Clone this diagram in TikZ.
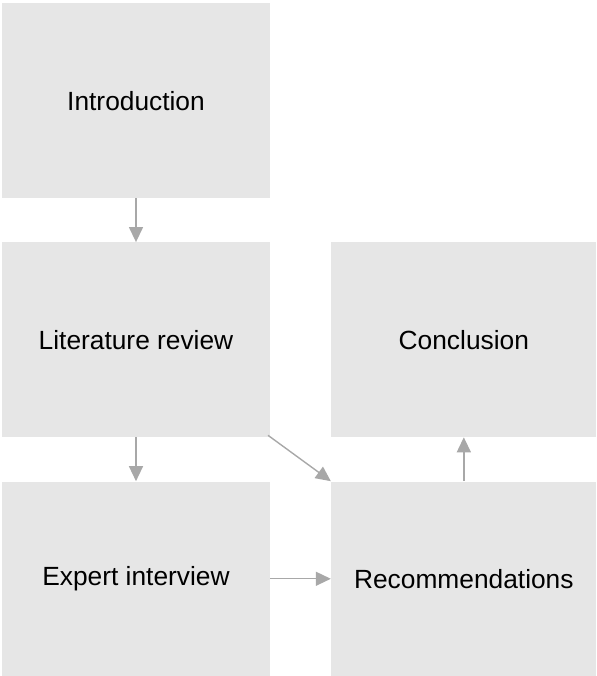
\documentclass[tikz,border=0pt]{standalone}
\usepackage{fontspec}
\setmainfont{Liberation Sans}
\usepackage{xcolor}
\usepackage{tikz}
\usetikzlibrary{positioning, arrows.meta}

\definecolor{boxgray}{HTML}{E6E6E6}
\definecolor{arrowgray}{HTML}{A8A8A8}

\begin{document}
\begin{tikzpicture}[node distance=22pt and 30.5pt,
    stage/.style={fill=boxgray, minimum width=134pt, minimum height=97.5pt, inner sep=0pt,
        font=\fontsize{13.2}{16}\selectfont},
    flow/.style={draw=arrowgray, line width=0.7pt, -{Triangle[length=7.5pt, width=7pt, fill=arrowgray]}}]
    % Left column
    \node[stage] (intro) {Introduction};
    \node[stage] (lit) [below=of intro] {Literature review};
    \node[stage] (expert) [below=of lit] {Expert interview};

    % Right column
    \node[stage, minimum width=133pt] (concl) [right=of lit] {Conclusion};
    \node[stage, minimum width=133pt] (rec) [right=of expert] {Recommendations};

    \useasboundingbox ([xshift=-1pt, yshift=1.5pt]intro.north west) rectangle ++(299pt,-338pt);

    % Edges
    \draw[flow] (intro) -- (lit);
    \draw[flow] (lit) -- (expert);
    \draw[flow] ([xshift=-1pt, yshift=1pt]lit.south east) -- (rec.north west);
    \draw[flow] (expert) -- (rec);
    \draw[flow] (rec) -- (concl);
\end{tikzpicture}
\end{document}
